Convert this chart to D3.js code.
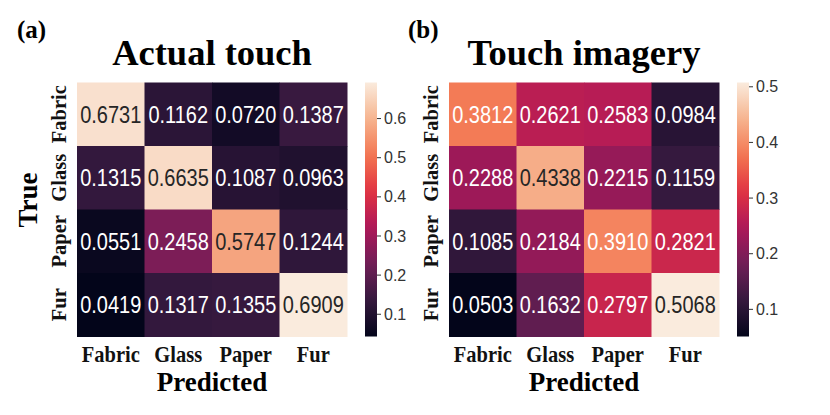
<!DOCTYPE html>
<html>
<head>
<meta charset="utf-8">
<script src="https://cdn.jsdelivr.net/npm/d3@7"></script>
<style>
  body { margin: 0; background: #fff; }
  svg { display: block; }
</style>
</head>
<body>
<svg id="chart" width="830" height="415"></svg>
<script>
const categories = ["Fabric", "Glass", "Paper", "Fur"];

// rows = true class, columns = predicted class
const actualTouch = [
    [0.6731, 0.1162, 0.0720, 0.1387],
    [0.1315, 0.6635, 0.1087, 0.0963],
    [0.0551, 0.2458, 0.5747, 0.1244],
    [0.0419, 0.1317, 0.1355, 0.6909]
];
const touchImagery = [
    [0.3812, 0.2621, 0.2583, 0.0984],
    [0.2288, 0.4338, 0.2215, 0.1159],
    [0.1085, 0.2184, 0.3910, 0.2821],
    [0.0503, 0.1632, 0.2797, 0.5068]
];
const actualTicks = [0.1, 0.2, 0.3, 0.4, 0.5, 0.6];
const imageryTicks = [0.1, 0.2, 0.3, 0.4, 0.5];

// seaborn "rocket" approximated
const rocketStops = ["#03051a", "#35193e", "#701f57", "#ad1759", "#e13342", "#f37651", "#f6b48f", "#faebdd"];
const rocket = d3.scaleLinear()
    .domain(d3.range(rocketStops.length).map(i => i / (rocketStops.length - 1)))
    .range(rocketStops)
    .interpolate(d3.interpolateRgb);

const svg = d3.select("#chart");

function luminance(c) {
    const rgb = d3.rgb(c);
    const ch = [rgb.r, rgb.g, rgb.b].map(v => {
        v = v / 255;
        return v <= 0.03928 ? v / 12.92 : Math.pow((v + 0.055) / 1.055, 2.4);
    });
    return 0.2126 * ch[0] + 0.7152 * ch[1] + 0.0722 * ch[2];
}

function drawPanel(opts) {
    const { data, ticks, x0, title, tag, tagX, showTrue, gradId } = opts;
    const flat = data.flat();
    const vmin = d3.min(flat), vmax = d3.max(flat);
    const norm = d3.scaleLinear().domain([vmin, vmax]).range([0, 1]);
    const color = v => rocket(norm(v));

    const x = d3.scaleBand().domain(categories).range([x0, x0 + 270]);
    const y = d3.scaleBand().domain(categories).range([82.5, 336.5]);

    const g = svg.append("g");

    const cells = [];
    data.forEach((row, i) => row.forEach((v, j) => cells.push({ t: categories[i], p: categories[j], v })));

    g.selectAll("rect.cell")
        .data(cells)
        .join("rect")
        .attr("class", "cell")
        .attr("x", d => x(d.p))
        .attr("y", d => y(d.t))
        .attr("width", x.bandwidth() + 0.5)
        .attr("height", y.bandwidth() + 0.5)
        .attr("fill", d => color(d.v));

    g.selectAll("text.annot")
        .data(cells)
        .join("text")
        .attr("class", "annot")
        .attr("transform", d => `translate(${x(d.p) + x.bandwidth() / 2},${y(d.t) + y.bandwidth() / 2}) scale(1,1.17)`)
        .attr("text-anchor", "middle")
        .attr("dy", "0.36em")
        .attr("font-family", "'Liberation Sans', Arial, sans-serif")
        .attr("font-size", 20)
        .attr("fill", d => luminance(color(d.v)) > 0.408 ? "#262626" : "#ffffff")
        .text(d => d.v.toFixed(4));

    // x tick labels
    g.selectAll("text.xtick")
        .data(categories)
        .join("text")
        .attr("class", "xtick")
        .attr("transform", d => `translate(${x(d) + x.bandwidth() / 2},362) scale(1,1.1)`)
        .attr("text-anchor", "middle")
        .attr("font-family", "'Liberation Serif', 'Times New Roman', serif")
        .attr("font-weight", "bold")
        .attr("font-size", 20.5)
        .attr("fill", "#111")
        .text(d => d);

    // y tick labels
    g.selectAll("text.ytick")
        .data(categories)
        .join("text")
        .attr("class", "ytick")
        .attr("transform", d => `translate(${x0 - 11},${y(d) + y.bandwidth() / 2}) rotate(-90)`)
        .attr("text-anchor", "middle")
        .attr("font-family", "'Liberation Serif', 'Times New Roman', serif")
        .attr("font-weight", "bold")
        .attr("font-size", 20.5)
        .attr("fill", "#111")
        .text(d => d);

    g.append("text")
        .attr("x", x0 + 135)
        .attr("y", 391)
        .attr("text-anchor", "middle")
        .attr("font-family", "'Liberation Serif', 'Times New Roman', serif")
        .attr("font-weight", "bold")
        .attr("font-size", 27)
        .attr("fill", "#000")
        .text("Predicted");

    if (showTrue) {
        g.append("text")
            .attr("transform", `translate(37,200) rotate(-90)`)
            .attr("text-anchor", "middle")
            .attr("font-family", "'Liberation Serif', 'Times New Roman', serif")
            .attr("font-weight", "bold")
            .attr("font-size", 27)
            .attr("fill", "#000")
            .text("True");
    }

    g.append("text")
        .attr("x", x0 + 135)
        .attr("y", 65)
        .attr("text-anchor", "middle")
        .attr("font-family", "'Liberation Serif', 'Times New Roman', serif")
        .attr("font-weight", "bold")
        .attr("font-size", 36.5)
        .attr("fill", "#000")
        .text(title);

    g.append("text")
        .attr("x", tagX)
        .attr("y", 38)
        .attr("font-family", "'Liberation Serif', 'Times New Roman', serif")
        .attr("font-weight", "bold")
        .attr("font-size", 25)
        .attr("fill", "#000")
        .text(tag);

    // colorbar
    const cbX = x0 + 288, cbW = 12;
    const cy = d3.scaleLinear().domain([vmin, vmax]).range([336.5, 82.5]);
    const grad = svg.append("defs").append("linearGradient")
        .attr("id", gradId)
        .attr("x1", 0).attr("y1", 1).attr("x2", 0).attr("y2", 0);
    d3.range(0, 1.0001, 0.05).forEach(t => {
        grad.append("stop").attr("offset", t).attr("stop-color", rocket(t));
    });
    g.append("rect")
        .attr("x", cbX)
        .attr("y", cy(vmax))
        .attr("width", cbW)
        .attr("height", cy(vmin) - cy(vmax))
        .attr("fill", `url(#${gradId})`);

    const axis = g.append("g")
        .attr("transform", `translate(${cbX + cbW},0)`)
        .call(d3.axisRight(cy).tickValues(ticks).tickSize(4).tickPadding(3).tickFormat(d3.format(".1f")));
    axis.select(".domain").remove();
    axis.selectAll(".tick line").attr("stroke", "#333");
    axis.selectAll(".tick text")
        .attr("font-family", "'Liberation Sans', Arial, sans-serif")
        .attr("font-size", 16)
        .attr("y", 0)
        .attr("dy", "0.35em")
        .attr("fill", "#333");
}

drawPanel({ data: actualTouch, ticks: actualTicks, x0: 77, title: "Actual touch", tag: "(a)", tagX: 17, showTrue: true, gradId: "gradA" });
drawPanel({ data: touchImagery, ticks: imageryTicks, x0: 449, title: "Touch imagery", tag: "(b)", tagX: 408, showTrue: false, gradId: "gradB" });
</script>
</body>
</html>
